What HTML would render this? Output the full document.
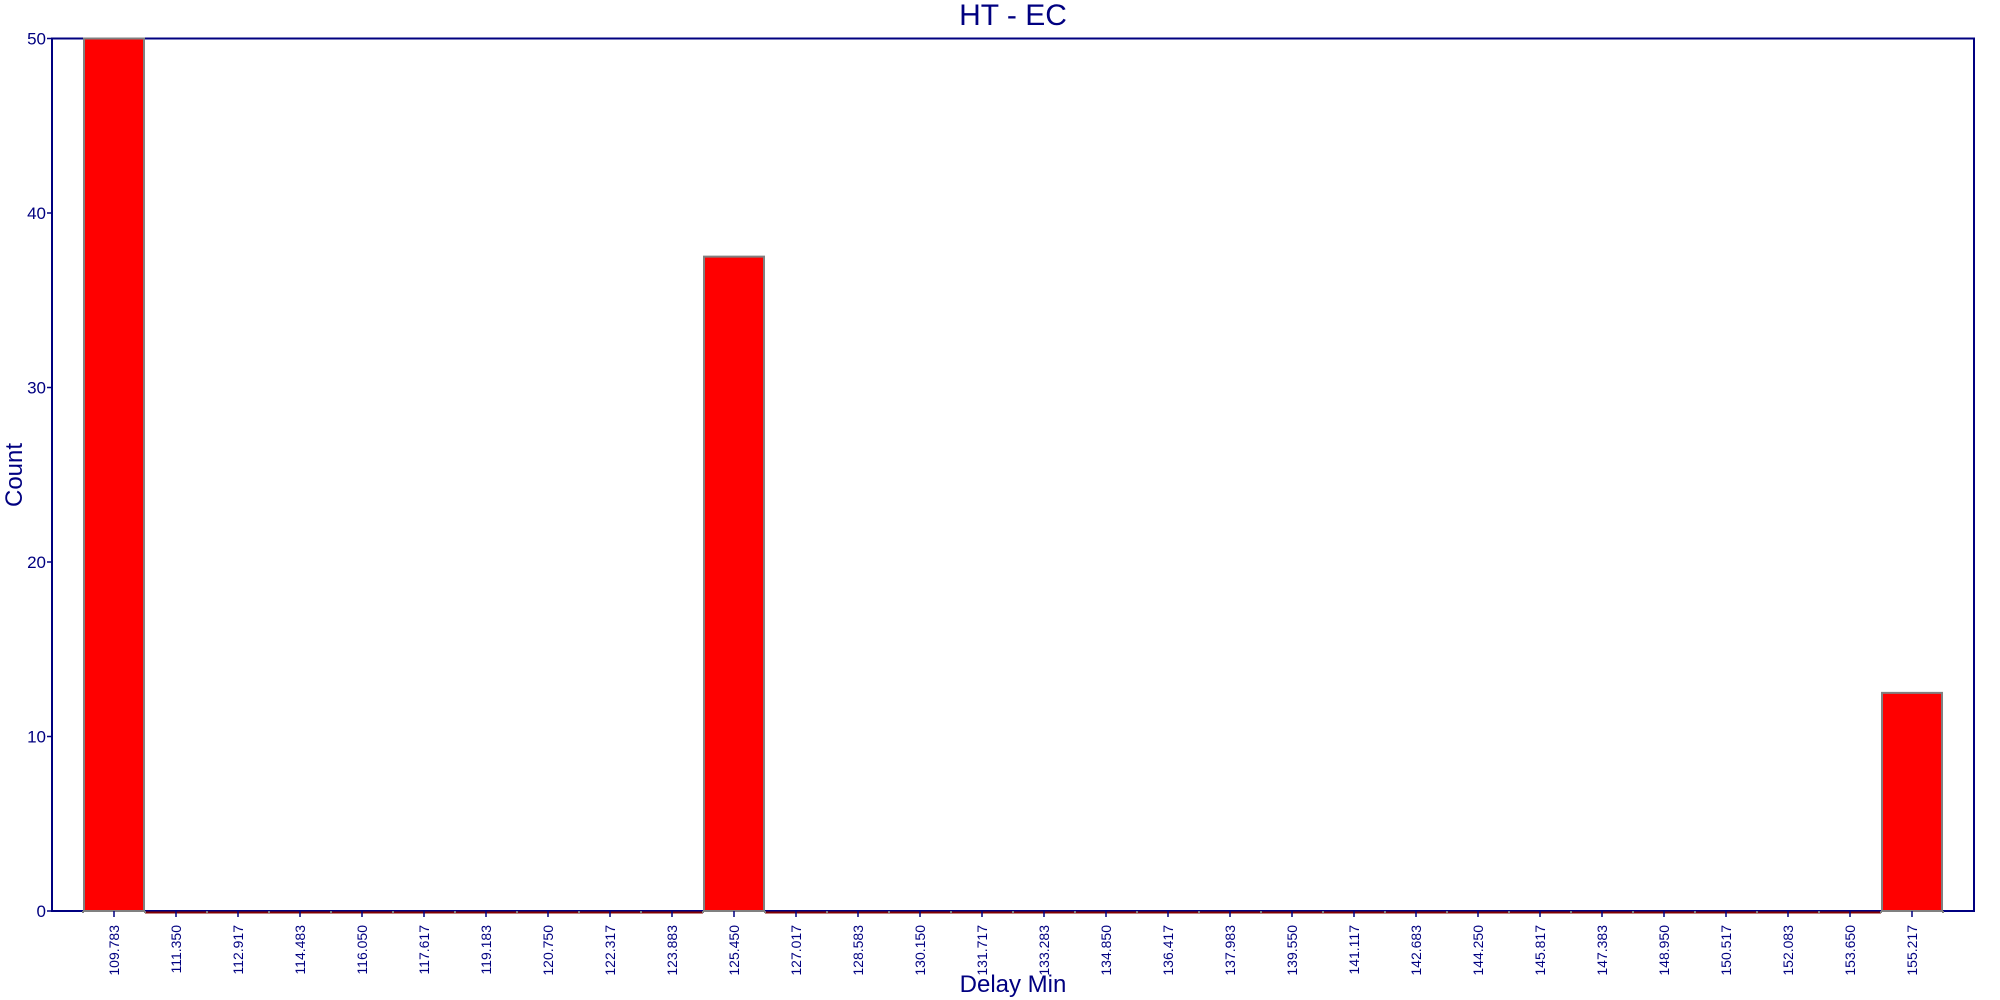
<!DOCTYPE html>
<html><head><meta charset="utf-8"><style>
html,body{margin:0;padding:0;background:#fff;}
svg{display:block;font-family:"Liberation Sans",sans-serif;}
</style></head><body>
<svg id="chart" width="2000" height="1000" viewBox="0 0 2000 1000">
<text x="1013" y="25" font-size="30" fill="#000080" text-anchor="middle">HT - EC</text>
<text transform="translate(22,475) rotate(-90)" font-size="24" fill="#000080" text-anchor="middle">Count</text>
<text x="1013" y="992" font-size="24" fill="#000080" text-anchor="middle">Delay Min</text>
<rect x="52" y="38.5" width="1922" height="872.5" fill="none" stroke="#000080" stroke-width="2"/>
<g id="bars"></g>
<g id="xaxis"></g>
<g id="yaxis"></g>
</svg>
<script>
const categories=["109.783","111.350","112.917","114.483","116.050","117.617","119.183","120.750","122.317","123.883","125.450","127.017","128.583","130.150","131.717","133.283","134.850","136.417","137.983","139.550","141.117","142.683","144.250","145.817","147.383","148.950","150.517","152.083","153.650","155.217"];
const counts=[50,0,0,0,0,0,0,0,0,0,37.5,0,0,0,0,0,0,0,0,0,0,0,0,0,0,0,0,0,0,12.5];
const yTicks=[0,10,20,30,40,50];
const NS="http://www.w3.org/2000/svg";
const L=52,R=1974,T=38.5,B=911,yMax=50;
const slot=(R-L)/(categories.length+1);
function xLeft(i){return L+slot/2+i*slot;}
function xCenter(i){return xLeft(i)+slot/2;}
function y(v){return B-(v/yMax)*(B-T);}
function mk(tag,attrs,parent){const e=document.createElementNS(NS,tag);for(const k in attrs)e.setAttribute(k,attrs[k]);parent.appendChild(e);return e;}
const bars=document.getElementById('bars'),xa=document.getElementById('xaxis'),ya=document.getElementById('yaxis');
counts.forEach((v,i)=>{
  if(v>0){
    const r=mk('rect',{x:xLeft(i)+1,y:y(v),width:slot-2,height:B-y(v),fill:'#ff0000',stroke:'#808080','stroke-width':2},bars);
    
    
  } else {
    const l=mk('line',{x1:xLeft(i),x2:xLeft(i)+slot,y1:B+1.5,y2:B+1.5,stroke:'#800000','stroke-width':2},bars);
    
    
  }
});
for(let i=0;i<=categories.length;i++){
  const d=mk('rect',{x:xLeft(i)-1,y:B,width:2,height:2,fill:'#808080'},xa);
  
  
}
categories.forEach((c,i)=>{
  const cx=xCenter(i);
  const t=mk('line',{x1:cx,x2:cx,y1:B,y2:B+6,stroke:'#000080','stroke-width':1.5},xa);
  
  
  const tx=mk('text',{transform:`translate(${cx+5},${B+14}) rotate(-90)`,'font-size':14,fill:'#000080','text-anchor':'end'},xa);
  tx.textContent=c;
  
  
});
yTicks.forEach(v=>{
  const yy=y(v);
  const t=mk('line',{x1:L-5,x2:L,y1:yy,y2:yy,stroke:'#000080','stroke-width':1.5},ya);
  
  
  const tx=mk('text',{x:L-6,y:yy+6,'font-size':17,fill:'#000080','text-anchor':'end'},ya);
  tx.textContent=v;
  
  
});
</script>
</body></html>
